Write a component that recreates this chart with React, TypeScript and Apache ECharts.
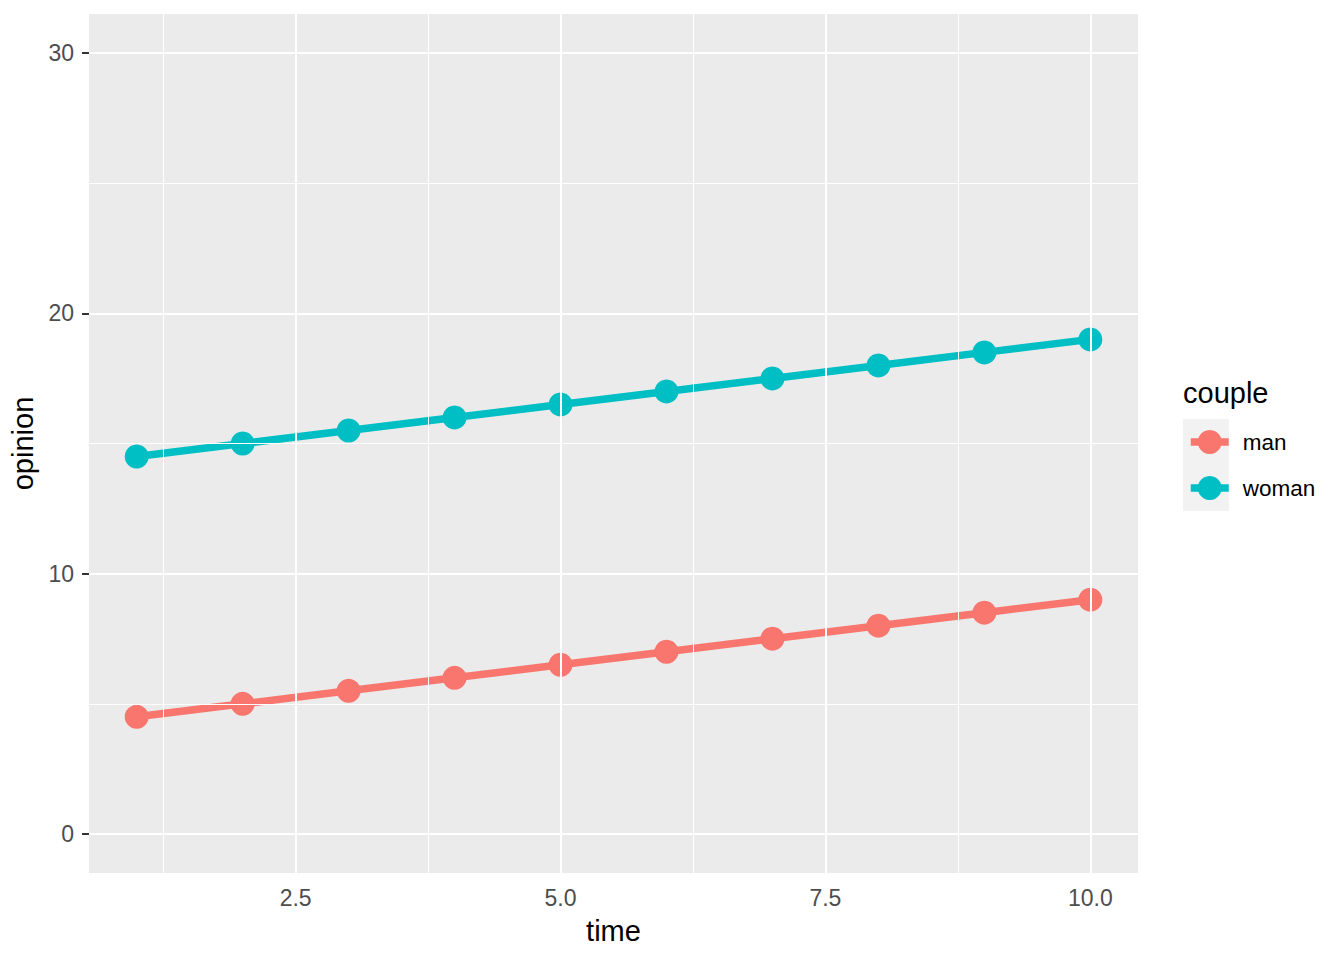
import React, { useEffect, useRef } from "react";
import * as echarts from "echarts";

const times = [1, 2, 3, 4, 5, 6, 7, 8, 9, 10];
const manValues = [4.5, 5, 5.5, 6, 6.5, 7, 7.5, 8, 8.5, 9];
const womanValues = [14.5, 15, 15.5, 16, 16.5, 17, 17.5, 18, 18.5, 19];
const xTicks = [2.5, 5, 7.5, 10];
const xMinor = [1.25, 3.75, 6.25, 8.75];
const yTicks = [0, 10, 20, 30];
const yMinor = [5, 15, 25];
const seriesNames = ["man", "woman"];
const colors = ["#F8766D", "#00BFC4"];

const FONT = "Liberation Sans, Arial, sans-serif";

export default function App() {
  const ref = useRef<HTMLDivElement>(null);
  useEffect(() => {
    if (!ref.current) return;
    const chart = echarts.init(ref.current, undefined, { renderer: "svg" });
    const toPairs = (vals: number[]) => times.map((t, i) => [t, vals[i]]);
    const gridLines = [
      ...xTicks.map((v) => ({ xAxis: v, lineStyle: { width: 2 } })),
      ...xMinor.map((v) => ({ xAxis: v, lineStyle: { width: 1 } })),
      ...yTicks.map((v) => ({ yAxis: v, lineStyle: { width: 2 } })),
      ...yMinor.map((v) => ({ yAxis: v, lineStyle: { width: 1 } })),
    ];
    const axisLabelStyle = { color: "#4D4D4D", fontSize: 23, fontFamily: FONT };
    chart.setOption({
      animation: false,
      grid: {
        left: 89,
        top: 14,
        right: 1344 - 1138,
        bottom: 960 - 873,
        show: true,
        backgroundColor: "#EBEBEB",
        borderWidth: 0,
      },
      xAxis: {
        type: "value",
        min: 0.55,
        max: 10.45,
        name: "time",
        nameLocation: "middle",
        nameGap: 43,
        nameTextStyle: { color: "#000", fontSize: 29, fontFamily: FONT },
        axisLine: { show: false },
        splitLine: { show: false },
        axisTick: { show: true, length: 7, customValues: xTicks, lineStyle: { color: "#333333", width: 2 } },
        axisLabel: {
          ...axisLabelStyle,
          margin: 13,
          customValues: xTicks,
          formatter: (v: number) => v.toFixed(1),
        },
      },
      yAxis: {
        type: "value",
        min: -1.5,
        max: 31.5,
        name: "opinion",
        nameLocation: "middle",
        nameGap: 39,
        nameTextStyle: { color: "#000", fontSize: 29, fontFamily: FONT },
        axisLine: { show: false },
        splitLine: { show: false },
        axisTick: { show: true, length: 7, customValues: yTicks, lineStyle: { color: "#333333", width: 2 } },
        axisLabel: { ...axisLabelStyle, margin: 15, customValues: yTicks },
      },
      legend: {
        orient: "vertical",
        left: 1187,
        top: 427,
        padding: 0,
        itemWidth: 38,
        itemHeight: 30,
        itemGap: 16,
        data: seriesNames,
        lineStyle: { width: 7.5 },
        textStyle: { color: "#000", fontSize: 22.5, fontFamily: FONT, padding: [0, 0, 0, 9], lineHeight: 30 },
      },
      graphic: [
        {
          type: "rect",
          shape: { x: 1183, y: 419, width: 46, height: 92 },
          style: { fill: "#F2F2F2" },
          z: -1,
        },
        {
          type: "text",
          x: 1183,
          y: 393,
          style: { text: "couple", fill: "#000", fontSize: 29, fontFamily: FONT, verticalAlign: "middle" },
        },
      ],
      series: [
        {
          type: "line",
          name: "_grid",
          data: [],
          silent: true,
          z: 1,
          markLine: {
            silent: true,
            symbol: "none",
            label: { show: false },
            lineStyle: { color: "#FFFFFF", type: "solid" },
            data: gridLines,
          },
        },
        ...seriesNames.map((n, i) => ({
          type: "line",
          name: n,
          data: toPairs(i === 0 ? manValues : womanValues),
          symbol: "circle",
          symbolSize: 24,
          showSymbol: true,
          z: 3,
          itemStyle: { color: colors[i] },
          lineStyle: { color: colors[i], width: 7.5 },
        })),
      ],
    });
    return () => chart.dispose();
  }, []);
  return (
    <div
      ref={ref}
      style={{ position: "fixed", left: 0, top: 0, width: 1344, height: 960, background: "#FFFFFF" }}
    />
  );
}
